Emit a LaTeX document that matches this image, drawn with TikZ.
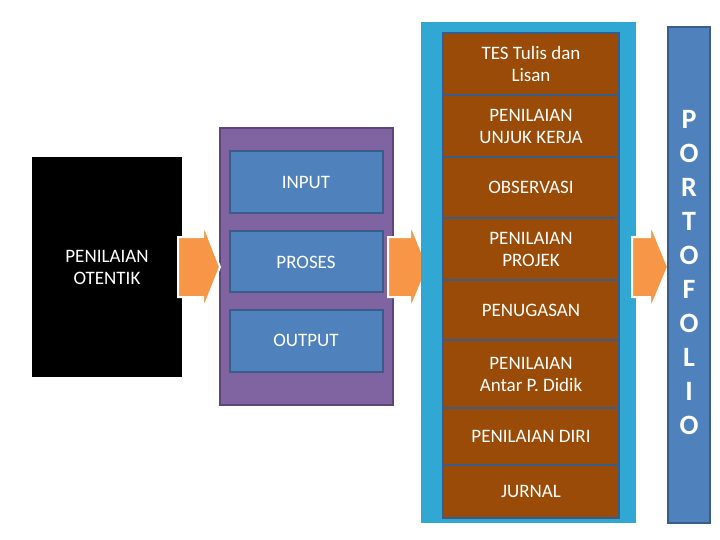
\documentclass[tikz,border=0pt]{standalone}
\usepackage{fontspec}
\setmainfont{Carlito}
\definecolor{purp}{HTML}{8064A2}
\definecolor{purpd}{HTML}{5C4776}
\definecolor{blu}{HTML}{4F81BD}
\definecolor{blud}{HTML}{385D8A}
\definecolor{teal}{HTML}{31A8D4}
\definecolor{brn}{HTML}{9A4B07}
\definecolor{orng}{HTML}{F79646}
\begin{document}
\begin{tikzpicture}[x=1pt,y=-1pt,
 txt/.style={text=white,font=\fontsize{19}{22}\selectfont,align=center},
 bbox/.style={fill=blu,draw=blud,line width=2pt},
 brbox/.style={fill=brn,draw=blud,line width=1.5pt},
 arr/.style={fill=orng,draw=white,line width=2pt}]
\useasboundingbox (0,0) rectangle (720,540);
\fill[black] (32,157) rectangle (182,377);
\node[txt] (po) at (107,267) {PENILAIAN\\OTENTIK};
\draw[fill=purp,draw=purpd,line width=1.5pt] (220,128) rectangle (393,405);
\draw[bbox] (230,151) rectangle (383,213); \node[txt] (in) at (306,182) {INPUT};
\draw[bbox] (230,231) rectangle (383,292); \node[txt] (pr) at (306,262) {PROSES};
\draw[bbox] (230,310) rectangle (383,372); \node[txt] (ou) at (306,340) {OUTPUT};
\draw[arr] (178,237) -- (203,237) -- (203,223) -- (220,267) -- (203,310) -- (203,297) -- (178,297) -- cycle;
\draw[arr] (388,237) -- (410,237) -- (410,223) -- (428,267) -- (410,310) -- (410,297) -- (388,297) -- cycle;
\fill[teal] (421,22) rectangle (636,523);
\draw[arr] (632,237) -- (650,237) -- (650,223) -- (668,267) -- (650,310) -- (650,297) -- (632,297) -- cycle;
\foreach \a/\b/\t [count=\i] in {33/95/{TES Tulis dan\\Lisan},95/157/{PENILAIAN\\UNJUK KERJA},157/218/OBSERVASI,218/280/{PENILAIAN\\PROJEK},280/340/PENUGASAN,340/408/{PENILAIAN\\Antar P. Didik},408/465/PENILAIAN DIRI,465/518/JURNAL}{
 \draw[brbox] (443,\a) rectangle (619,\b);
 \node[txt] (r\i) at (531,{(\a+\b)/2}) {\t};
}
\draw[fill=blu,draw=blud,line width=1.5pt] (668,27) rectangle (710,523);
\node[text=white,font=\bfseries\fontsize{28}{34}\selectfont,align=center] (pf) at (689,273) {P\\O\\R\\T\\O\\F\\O\\L\\I\\O};
\end{tikzpicture}
\end{document}
